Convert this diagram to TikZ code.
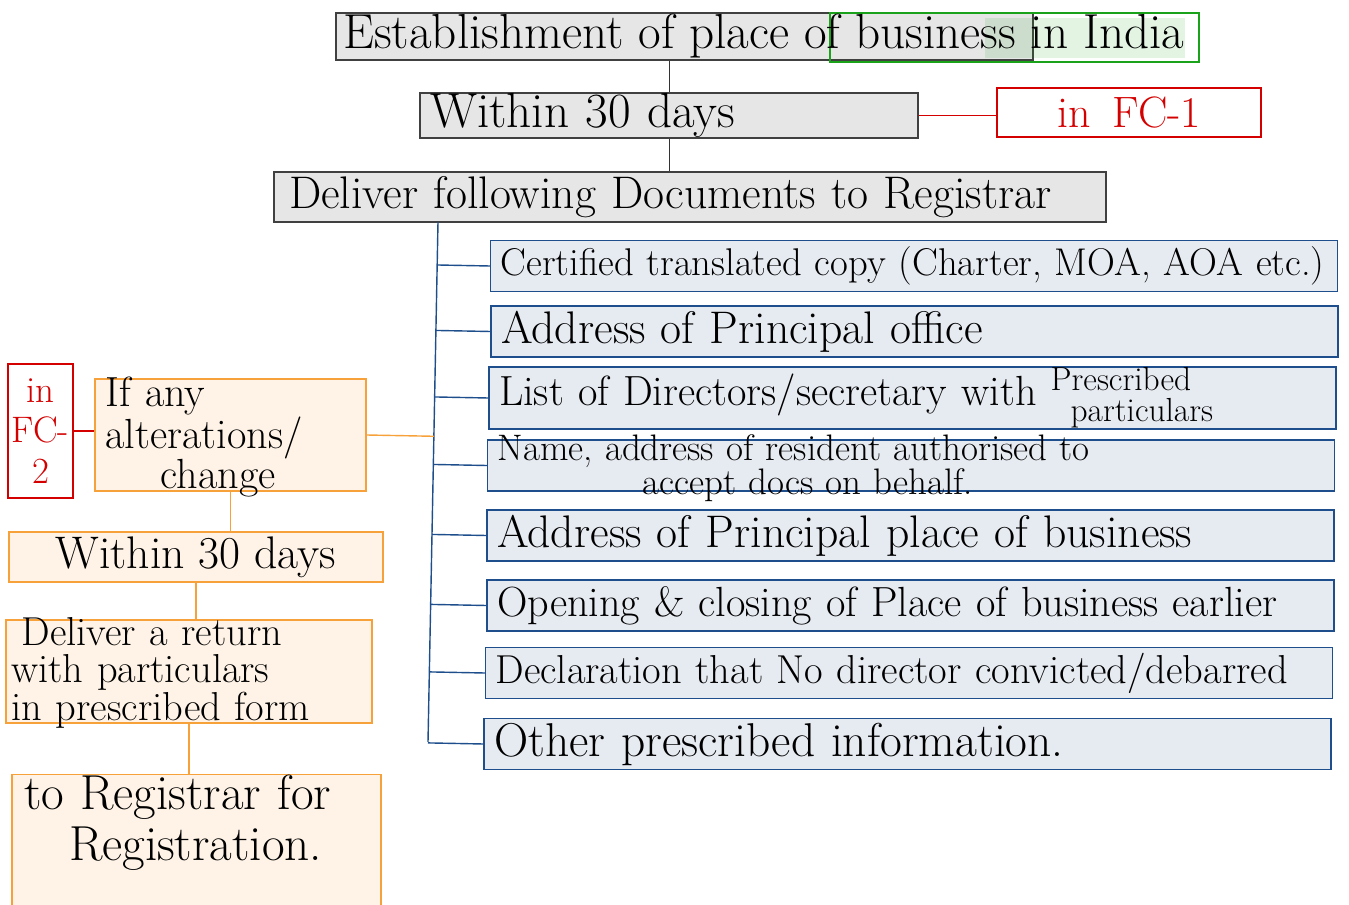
\documentclass[tikz,border=0pt]{standalone}
\usepackage{xcolor}
\usepackage{tikz}
\usetikzlibrary{positioning,calc}

\definecolor{boxgray}{HTML}{E6E6E6}
\definecolor{indiagreen}{HTML}{1AA31A}
\definecolor{docblue}{HTML}{1F4E8C}
\definecolor{docfill}{HTML}{E6EAF1}
\definecolor{altorange}{HTML}{F7A13A}
\definecolor{altfill}{HTML}{FEF3E6}
\definecolor{formred}{HTML}{D40000}

\newcommand{\fsz}[2]{\fontsize{#1}{#2}\selectfont}
% lines kept inside a fixed box (text allowed to spill like handwriting)
\newcommand{\lines}[2][l]{\smash{\raisebox{-0.32em}{\renewcommand\arraystretch{0.85}%
    \begin{tabular}[c]{@{}#1@{}}#2\end{tabular}}}}

\begin{document}
\begin{tikzpicture}[
    x=0.02cm, y=-0.02cm,
    every node/.style={font=\fsz{20}{22}, inner sep=0pt},
    graybox/.style={draw=black!75, fill=boxgray, thick},
    docbox/.style={draw=docblue, fill=docfill, thick, minimum height=1.02cm,
        text width=16.54cm, inner xsep=0.2cm, align=left},
    altbox/.style={draw=altorange, fill=altfill, thick},
    formbox/.style={draw=formred, thick, text=formred},
    grayline/.style={draw=black!80, thin},
    blueline/.style={draw=docblue, thick},
    orangeline/.style={draw=altorange, thick},
    redline/.style={draw=formred, thick},
]
\useasboundingbox (0,0) rectangle (1349,905);

% =====================================================================
% Top chain: establishment -> 30 days -> deliver documents
% =====================================================================
\node[graybox, minimum width=13.94cm, minimum height=0.94cm] (est) at (684.5,36.5) {};
\fill[indiagreen, opacity=0.12] (985,18) rectangle (1185,58);
\node[draw=indiagreen, very thick, minimum width=7.38cm, minimum height=0.98cm] (india) at (1014.5,37.5) {};
\node[font=\fsz{28}{30}, anchor=west] (esttxt) at (343,36) {Establishment of place of business in India};

\node[graybox, font=\fsz{28}{30}, minimum width=9.96cm, minimum height=0.9cm,
    text width=9.56cm, inner xsep=0.2cm, align=left] (within) at (669,115.5) {Within 30 days};
\node[formbox, font=\fsz{25}{28}, minimum width=5.28cm, minimum height=0.98cm] (fc1) at (1129,112.5) {in\enspace FC-1};

\node[graybox, font=\fsz{26}{28}, minimum width=16.64cm, minimum height=1.0cm,
    text width=16.04cm, inner xsep=0.3cm, align=left] (deliver) at (690,197) {Deliver following Documents to Registrar};

\draw[grayline] (within.north) -- (within.north |- est.south);
\draw[grayline] (within.south) -- (within.south |- deliver.north);
\draw[redline] (within.east) -- (within.east -| fc1.west);

% =====================================================================
% Documents list
% =====================================================================
\node[docbox, font=\fsz{22}{24}] (cert) at (914,266) {Certified translated copy (Charter, MOA, AOA etc.)};
\node[docbox, font=\fsz{26}{28}] (addr) at (914.5,331.5) {Address of Principal office};
\node[docbox, font=\fsz{24}{26}] (list) at (912.5,398) {List of Directors/secretary with
    {\fsz{19}{15}\begin{tabular}[c]{@{}l@{}}Prescribed\\ \hspace*{0.4cm}particulars\end{tabular}}};
\node[docbox, font=\fsz{21}{18}] (name) at (911,465.5)
    {\lines{Name, address of resident authorised to\\ \hspace*{2.9cm}accept docs on behalf.}};
\node[docbox, font=\fsz{26}{28}] (ppob) at (910.5,535.5) {Address of Principal place of business};
\node[docbox, font=\fsz{24}{26}] (open) at (910.5,605.5) {Opening \& closing of Place of business earlier};
\node[docbox, font=\fsz{23}{26}] (decl) at (909,673) {Declaration that No director convicted/debarred};
\node[docbox, font=\fsz{27}{29}] (other) at (907.5,744) {Other prescribed information.};

% slanted trunk with a branch to every document
\coordinate (trunktop) at (438,222);
\coordinate (trunkbot) at (428,742);
\draw[blueline] (trunktop) -- (trunkbot);
\foreach \doc in {cert,addr,list,name,ppob,open,decl,other} {
    \draw[blueline] ($(trunktop)!(\doc.west)!(trunkbot)$) -- (\doc.west);
}

% =====================================================================
% Alterations: left column
% =====================================================================
\node[altbox, minimum width=5.42cm, minimum height=2.24cm, text width=5.0cm,
    align=left, font=\fsz{24}{23}] (alt) at (230.5,435)
    {\lines{If any\\ alterations/\\ \hspace*{1.1cm}change}};
\node[formbox, minimum width=1.3cm, minimum height=2.68cm, align=center,
    font=\fsz{21}{23}] (fc2) at (40.5,431) {in\\ FC-\\ 2};

\node[altbox, font=\fsz{26}{28}, minimum width=7.48cm, minimum height=1.0cm] (w30) at (196,557) {Within 30 days};
\node[altbox, minimum width=7.32cm, minimum height=2.06cm, text width=7.1cm,
    align=left, font=\fsz{23}{21}] (ret) at (189,671.5)
    {\lines{\hspace*{0.2cm}Deliver a return\\ with particulars\\ in prescribed form}};
\node[altbox, minimum width=7.38cm, minimum height=2.7cm, text width=6.9cm,
    align=left, font=\fsz{28}{29}] (reg) at (196.5,843)
    {to Registrar for\\ \hspace*{0.9cm}Registration.\\ \mbox{}};

\draw[orangeline] (alt.east) -- ($(trunktop)!(alt.east)!(trunkbot)$);
\draw[redline] (fc2.east) -- (fc2.east -| alt.west);
\draw[orangeline] (alt.south) -- (alt.south |- w30.north);
\draw[orangeline] (w30.south) -- (w30.south |- ret.north);
\draw[orangeline] (ret.south) -- (ret.south |- reg.north);

\end{tikzpicture}
\end{document}
